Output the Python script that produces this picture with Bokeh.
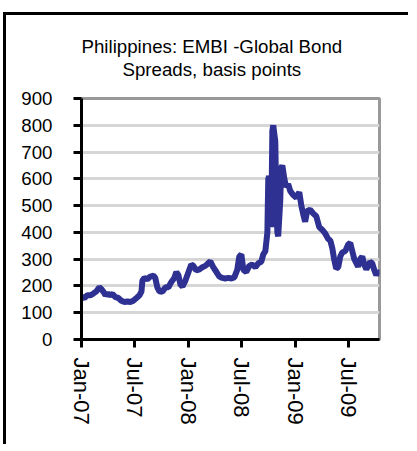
import pandas as pd
from bokeh.plotting import figure
from bokeh.models import FixedTicker, Title
from bokeh.embed import file_html
from bokeh.resources import INLINE

dates = [
    "2007-01-01", "2007-01-11", "2007-01-21", "2007-02-01", "2007-02-11", "2007-02-21",
    "2007-03-03", "2007-03-10", "2007-03-17", "2007-03-24", "2007-03-31", "2007-04-07",
    "2007-04-17", "2007-04-27", "2007-05-07", "2007-05-17", "2007-05-28", "2007-06-07",
    "2007-06-17", "2007-06-27", "2007-07-08", "2007-07-18", "2007-07-25", "2007-07-28",
    "2007-08-04", "2007-08-14", "2007-08-24", "2007-09-04", "2007-09-10", "2007-09-17",
    "2007-09-24", "2007-10-04", "2007-10-15", "2007-10-25", "2007-11-04", "2007-11-14",
    "2007-11-21", "2007-11-28", "2007-12-05", "2007-12-12", "2007-12-22", "2008-01-01",
    "2008-01-11", "2008-01-18", "2008-01-28", "2008-02-08", "2008-02-18", "2008-02-28",
    "2008-03-09", "2008-03-16", "2008-03-26", "2008-04-06", "2008-04-16", "2008-04-26",
    "2008-05-06", "2008-05-17", "2008-05-27", "2008-06-06", "2008-06-16", "2008-06-23",
    "2008-06-30", "2008-07-07", "2008-07-17", "2008-07-27", "2008-08-06", "2008-08-17",
    "2008-08-27", "2008-09-06", "2008-09-13", "2008-09-20", "2008-09-27", "2008-09-30",
    "2008-10-03", "2008-10-07", "2008-10-10", "2008-10-14", "2008-10-17", "2008-10-24",
    "2008-10-27", "2008-10-31", "2008-11-03", "2008-11-10", "2008-11-13", "2008-11-17",
    "2008-11-24", "2008-11-30", "2008-12-07", "2008-12-14", "2008-12-24", "2009-01-04",
    "2009-01-14", "2009-01-21", "2009-01-27", "2009-02-03", "2009-02-10", "2009-02-20",
    "2009-03-03", "2009-03-13", "2009-03-23", "2009-04-02", "2009-04-13", "2009-04-23",
    "2009-04-30", "2009-05-07", "2009-05-13", "2009-05-20", "2009-05-27", "2009-06-03",
    "2009-06-10", "2009-06-20", "2009-06-30", "2009-07-07", "2009-07-14", "2009-07-21",
    "2009-07-28", "2009-08-03", "2009-08-10", "2009-08-17", "2009-08-24", "2009-08-31",
    "2009-09-06", "2009-09-13", "2009-09-20", "2009-09-27", "2009-10-04", "2009-10-11",
    "2009-10-14",
]
spreads = [
    160, 155, 165, 165, 172, 180,
    195, 188, 178, 165, 172, 165,
    170, 158, 155, 145, 140, 142,
    140, 145, 155, 165, 180, 220,
    230, 225, 235, 238, 230, 195,
    180, 178, 195, 195, 215, 230,
    252, 240, 205, 198, 220, 250,
    280, 275, 258, 262, 270, 275,
    285, 292, 270, 252, 235, 230,
    228, 230, 228, 232, 260, 310,
    318, 260, 252, 275, 280, 270,
    285, 290, 318, 330, 400, 600,
    610, 440, 420, 780, 800, 740,
    550, 400, 385, 520, 640, 650,
    600, 570, 580, 555, 540, 530,
    550, 500, 470, 440, 480, 485,
    470, 460, 420, 410, 395, 375,
    370, 340, 300, 265, 270, 310,
    325, 330, 355, 360, 330, 300,
    285, 272, 300, 310, 280, 262,
    275, 290, 285, 260, 240, 255,
    250,
]

tick_dates = ["2007-01-01", "2007-07-01", "2008-01-01", "2008-07-01", "2009-01-01", "2009-07-01"]
tick_labels = ["Jan-07", "Jul-07", "Jan-08", "Jul-08", "Jan-09", "Jul-09"]
y_ticks = [0, 100, 200, 300, 400, 500, 600, 700, 800, 900]
title_lines = ["Philippines: EMBI -Global Bond", "Spreads, basis points"]

x = pd.to_datetime(dates)
tick_ms = [pd.Timestamp(d).value / 1e6 for d in tick_dates]

p = figure(
    width=405, height=432,
    x_axis_type="datetime",
    x_range=(pd.Timestamp("2007-01-01").value / 1e6, pd.Timestamp("2009-10-15").value / 1e6),
    y_range=(0, 900),
    output_backend="svg", toolbar_location=None,
    min_border_left=75, min_border_right=32, min_border_top=83, min_border_bottom=108,
    styles={"border-left": "3px solid black", "border-top": "3px solid black",
            "margin-left": "3px", "margin-top": "12px"},
)
p.title = None
p.border_fill_color = None
p.background_fill_color = "white"

# spacer between frame and title, then the two title lines (nearest first)
p.add_layout(Title(text=" ", align="left", standoff=0, text_font="Liberation Sans",
                   text_font_size="15px"), "above")
title_cfg = [(title_lines[1], 41, 0), (title_lines[0], 0, 0)]
for text, off, stand in title_cfg:
    p.add_layout(Title(text=text, align="left", offset=off, standoff=stand,
                       text_font="Liberation Sans", text_font_size="18.7px",
                       text_font_style="normal", text_color="black"), "above")

p.line(x, spreads, line_color="#2E3192", line_width=6)

p.outline_line_color = "#999999"
p.outline_line_width = 3
p.xgrid.visible = False
p.ygrid.grid_line_color = "#d6d6d6"
p.ygrid.grid_line_width = 3
p.ygrid.ticker = FixedTicker(ticks=y_ticks)

p.yaxis.ticker = FixedTicker(ticks=y_ticks)
p.xaxis.ticker = FixedTicker(ticks=tick_ms)
p.xaxis.major_label_overrides = {t_: l for t_, l in zip(tick_ms, tick_labels)}
p.xaxis.major_label_orientation = "vertical"

for ax in (p.xaxis, p.yaxis):
    ax.axis_line_color = "black"
    ax.axis_line_width = 3
    ax.major_tick_line_color = "black"
    ax.major_tick_line_width = 3
    ax.major_tick_in = 0
    ax.major_tick_out = 8
    ax.minor_tick_line_color = None
    ax.major_label_text_font = "Liberation Sans"
    ax.major_label_text_color = "black"
p.yaxis.major_label_text_font_size = "18.7px"
p.xaxis.major_label_text_font_size = "22px"
p.yaxis.major_label_standoff = 21
p.xaxis.major_label_standoff = 10

open("out.html", "w").write(file_html(p, INLINE))
